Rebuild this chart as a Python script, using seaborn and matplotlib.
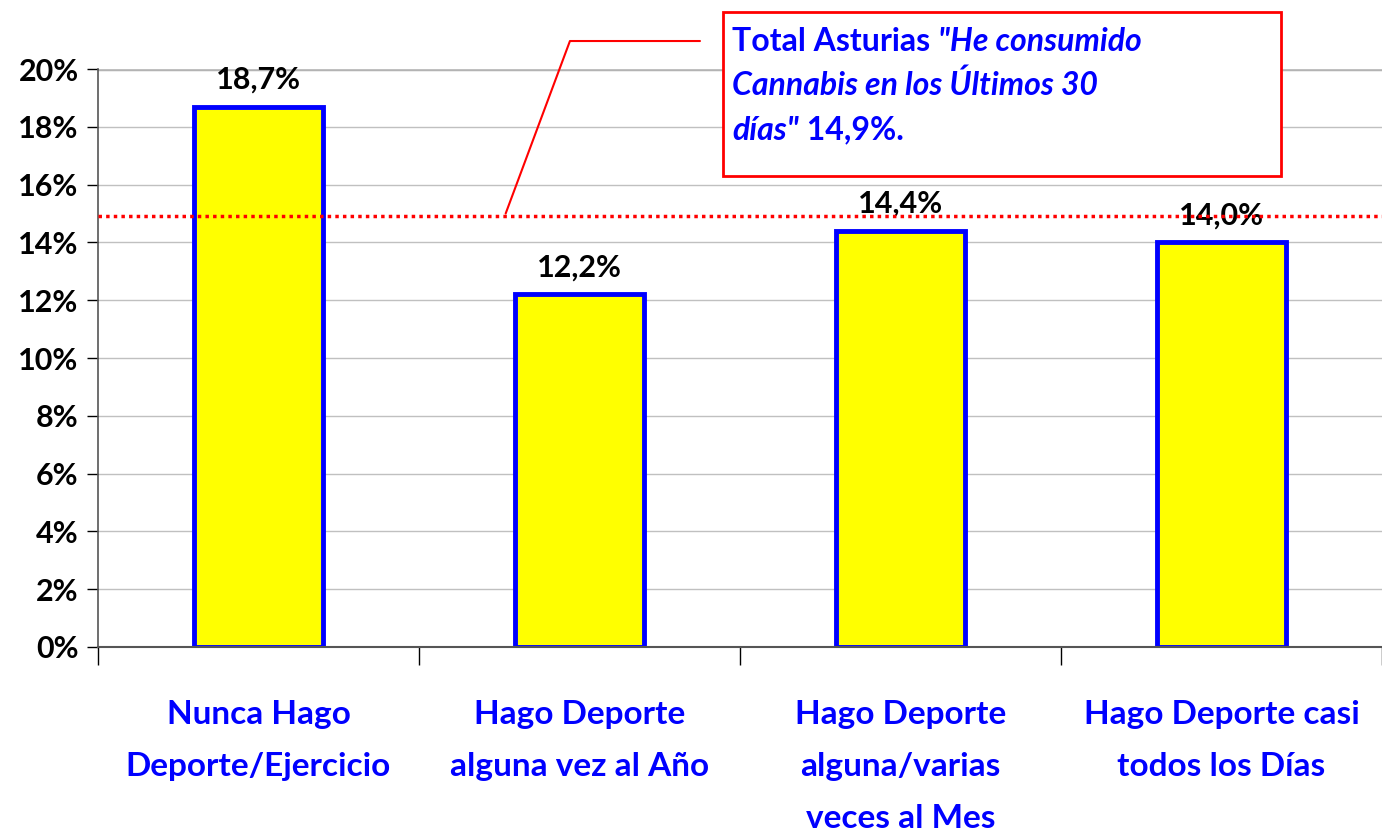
import matplotlib
matplotlib.use("Agg")
import matplotlib.pyplot as plt
from matplotlib.patches import Rectangle
from matplotlib.lines import Line2D
from matplotlib.text import Annotation
import seaborn as sns
import pandas as pd

categorias = ["Nunca Hago\nDeporte/Ejercicio",
              "Hago Deporte\nalguna vez al Año",
              "Hago Deporte\nalguna/varias\nveces al Mes",
              "Hago Deporte casi\ntodos los Días"]
valores = [18.7, 12.2, 14.4, 14.0]
etiquetas = ["18,7%", "12,2%", "14,4%", "14,0%"]
total_asturias = 14.9

sns.set_theme(style="white")
plt.rcParams['font.family'] = ['Lato', 'DejaVu Sans']
plt.rcParams['font.weight'] = 'bold'

df = pd.DataFrame({"cat": categorias, "val": valores})

fig = plt.figure(figsize=(13.82, 8.32), dpi=100)
ax = fig.add_axes([0.0709, 0.2224, 0.9291, 0.6946])

sns.barplot(data=df, x="cat", y="val", ax=ax, color="#FFFF00",
            edgecolor="#0000FF", linewidth=3.5, width=0.4, saturation=1)

ax.set_ylim(0, 20)
ax.set_xlim(-0.5, 3.5)
ax.set_yticks(range(0, 21, 2))
ax.set_yticklabels([f"{v}%" for v in range(0, 21, 2)], fontsize=22,
                   fontweight='bold', color='black')
ax.yaxis.grid(True, color="#C0C0C0", linewidth=1)
ax.set_axisbelow(True)
ax.set_xlabel("")
ax.set_ylabel("")

# etiquetas de categorias
ax.set_xticks(range(len(categorias)))
ax.set_xticklabels(categorias, fontsize=24, fontweight='bold', color='#0000FF',
                   linespacing=1.97)
ax.tick_params(axis='x', which='major', length=0, pad=38)
ax.set_xticks([i - 0.5 for i in range(len(categorias) + 1)], minor=True)
ax.tick_params(axis='x', which='minor', length=13, width=1, color='black',
               direction='out', bottom=True)
ax.tick_params(axis='y', length=8, width=1, color='black', direction='out',
               left=True, pad=6)

for s in ["top", "right"]:
    ax.spines[s].set_visible(False)
ax.spines["left"].set_color("#555555")
ax.spines["bottom"].set_color("#555555")
ax.spines["left"].set_linewidth(1.2)
ax.spines["bottom"].set_linewidth(1.5)
ax.axhline(20, color="#B0B0B0", linewidth=2.5, zorder=0.5)

for i, (v, t) in enumerate(zip(valores, etiquetas)):
    ax.text(i, v + 0.45, t, ha='center', va='bottom', fontsize=22,
            fontweight='bold', color='black')

# linea total
ax.axhline(total_asturias, color="#FF0000", linestyle=(0, (1, 1.2)),
           linewidth=2.5, zorder=3)

# recuadro de anotacion
caja = Rectangle((0.5232, 0.7885), 0.4038, 0.197, transform=fig.transFigure,
                 facecolor='white', edgecolor='#FF0000', linewidth=2, zorder=5)
fig.patches.append(caja)

x_fin, y_fin = fig.transFigure.inverted().transform(
    ax.transData.transform((0.77, total_asturias + 0.1)))
fig.lines.append(Line2D([0.5065, 0.4124, x_fin], [0.9507, 0.9507, y_fin],
                        transform=fig.transFigure, color='#FF0000',
                        linewidth=1.5, zorder=5))

azul = '#0000FF'
tx0 = 0.530
t1 = fig.text(tx0, 0.9507, "Total Asturias ", fontsize=23, fontweight='bold',
              color=azul, va='center', zorder=6)
fig.add_artist(Annotation("\"He consumido", xy=(1, 0), xycoords=t1,
                          va='bottom', fontsize=23, fontweight='bold',
                          style='italic', color=azul, zorder=6))
fig.text(tx0, 0.8978, "Cannabis en los Últimos 30", fontsize=23,
         fontweight='bold', style='italic', color=azul, va='center', zorder=6)
t3 = fig.text(tx0, 0.8437, "días\"", fontsize=23, fontweight='bold',
              style='italic', color=azul, va='center', zorder=6)
fig.add_artist(Annotation(" 14,9%.", xy=(1, 0), xycoords=t3, va='bottom',
                          fontsize=23, fontweight='bold', color=azul,
                          zorder=6))

fig.savefig("out.png", dpi=100)
